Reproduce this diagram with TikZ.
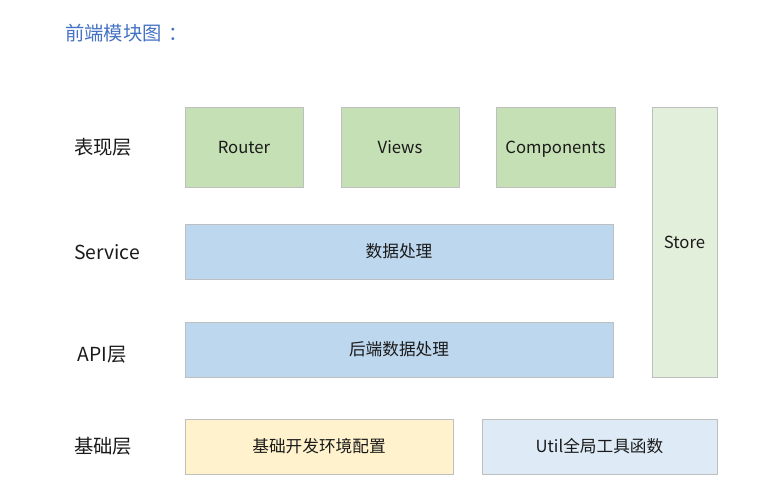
\documentclass[tikz,border=0pt]{standalone}
\usepackage{fontspec}
\setmainfont{Noto Sans CJK SC}
\definecolor{bordergray}{HTML}{BFBFBF}
\definecolor{greenA}{HTML}{C5E0B4}
\definecolor{greenB}{HTML}{E2EFDA}
\definecolor{blueA}{HTML}{BDD7EE}
\definecolor{blueB}{HTML}{DEEBF7}
\definecolor{yellowA}{HTML}{FFF2CC}
\definecolor{titleblue}{HTML}{4472C4}
\definecolor{textdark}{HTML}{1A1A1A}
\begin{document}
\begin{tikzpicture}[x=0.75pt,y=-0.75pt,
  box/.style={draw=bordergray, line width=0.75pt, text=textdark, font=\fontsize{12.5pt}{14pt}\selectfont, inner sep=0pt},
  rowlabel/.style={text=textdark, font=\fontsize{14.5pt}{17pt}\selectfont, inner sep=0pt},
  titletext/.style={text=titleblue, font=\fontsize{14.5pt}{17pt}\selectfont, inner sep=0pt, anchor=west}]
\useasboundingbox (0,0) rectangle (761,494);
% title
\node[titletext] (title) at (65,33) {前端模块图\kern5pt：};
% row labels
\node[rowlabel] (l1) at (103,147) {表现层};
\node[rowlabel] (l2) at (107,252) {Service};
\node[rowlabel] (l3) at (102,355) {API层};
\node[rowlabel] (l4) at (103,446) {基础层};
% boxes
\draw[box, fill=greenA] (185,107) rectangle (303,187) node[midway] (router) {Router};
\draw[box, fill=greenA] (341,107) rectangle (459,187) node[midway] (views) {Views};
\draw[box, fill=greenA] (496,107) rectangle (615,187) node[midway, yshift=-1.5pt] (comp) {Components};
\draw[box, fill=greenB] (652,107) rectangle (717,377) node[midway] (store) {Store};
\draw[box, fill=blueA] (185,224) rectangle (613,279) node[midway] (svc) {数据处理};
\draw[box, fill=blueA] (185,322) rectangle (613,377) node[midway] (api) {后端数据处理};
\draw[box, fill=yellowA] (185,419) rectangle (453,474) node[midway] (base) {基础开发环境配置};
\draw[box, fill=blueB] (482,419) rectangle (717,474) node[midway] (util) {Util全局工具函数};
\end{tikzpicture}
\end{document}
